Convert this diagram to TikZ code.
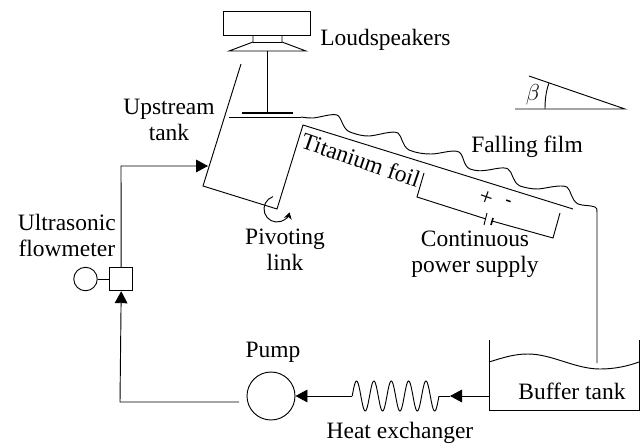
\documentclass[tikz,border=0pt]{standalone}
\usepackage{fontspec}
\setmainfont{Liberation Serif}
\usepackage{amsmath}
\usetikzlibrary{arrows.meta, positioning}
\tikzset{
	label/.style={font=\fontsize{17.6}{19.5}\selectfont, align=center, inner sep=0pt},
	wall/.style={draw=black, line width=0.7pt},
	pipe/.style={draw=black, line width=0.7pt},
	flow/.style={pipe, -{Triangle[length=9pt, width=9.5pt]}},
	instrument/.style={draw=black, line width=0.7pt, inner sep=0pt, minimum size=#1}
}
\begin{document}
\begin{tikzpicture}[x=0.75pt, y=-0.75pt]
	\useasboundingbox (0,0) rectangle (644,444);

	\coordinate (rodtop) at (267.5,51);
	\coordinate (rodend) at (267.5,112);
	\coordinate (tankin) at (208,166);
	\coordinate (corner) at (121,166);
	\coordinate (tanktop) at (241,64);
	\coordinate (tankbase) at (203,186);
	\coordinate (pivot) at (277,209);
	\coordinate (foilstart) at (303,125);
	\coordinate (foilend) at (573,209);
	\coordinate (filmend) at (597,363);
	\coordinate (retleft) at (120,402);
	\coordinate (retright) at (239,402);
	\coordinate (coilin) at (352.2,396);
	\coordinate (coilout) at (439,396);
	\coordinate (tankout) at (489,396);
	\coordinate (arrowmid) at (450,396);

	% loudspeakers
	\draw[wall] (223.5,11.5) rectangle (310.5,35.5);
	\draw[wall] (253,35.5) -- (253,42) -- (229,51) -- (306,51) -- (282,42) -- (282,35.5);
	\draw[wall] (253,42) -- (282,42);
	\draw[wall] (rodtop) -- (rodend);
	\draw[black, line width=2pt] (242,113) -- (293,113);
	\node[label, anchor=west] (loud) at (320,40) {Loudspeakers};

	% upstream tank and foil
	\draw[wall] (tanktop) -- (tankbase) -- (pivot) -- (foilstart) -- (foilend);
	\draw[wall] (229,117) -- (301,117);
	\draw[wall] (301,117) .. controls (306,117.5) and (309,118.5) .. (313,118)
		.. controls (322,117) and (331,113.5) .. (337,115)
		.. controls (342,117) and (342,129) .. (350,132)
		.. controls (358,135) and (363,136) .. (369,136)
		.. controls (378,135.5) and (392,130) .. (398,133)
		.. controls (402,136) and (402,146) .. (409,150)
		.. controls (416,153) and (424,154) .. (431,154)
		.. controls (440,154) and (453,149) .. (459,152)
		.. controls (464,155) and (463,166) .. (470,169)
		.. controls (476,171) and (480,171) .. (484,170.5)
		.. controls (492,170) and (503,166) .. (508,169)
		.. controls (513,172) and (512,182) .. (520,186)
		.. controls (526,188) and (532,189) .. (538,189)
		.. controls (546,188.5) and (560,184) .. (567,187)
		.. controls (571,190) and (571,200) .. (578,204)
		.. controls (583,206) and (590,205) .. (595,207)
		.. controls (597,208) and (597,209) .. (597,212) -- (filmend);
	\draw[pipe, -{Stealth[length=5pt, width=6pt]}] (pivot) ++(252:13) arc[start angle=252, end angle=15, radius=13];
	\node[label, rotate=-19] (foil) at (361,160) {Titanium foil};
	\node[label] (film) at (527,147) {Falling film};
	\node[label] (upstream) at (169,120) {Upstream\\tank};
	\node[label] (pivoting) at (285,250) {Pivoting\\link};

	% power supply
	\draw[wall] (424,173) -- (417,197) -- (486,219);
	\draw[wall] (487,213) -- (484,225);
	\draw[black, line width=1.2pt] (493,218) -- (491,225);
	\draw[wall] (492,221) -- (553,238) -- (560,213);
	\node[font=\fontsize{18}{18}\selectfont, rotate=-19, inner sep=0pt] (plus) at (486,198) {+};
	\node[font=\bfseries\fontsize{14}{14}\selectfont, rotate=-19, inner sep=0pt] (minus) at (508,203) {-};
	\node[label] (supply) at (475,254) {Continuous\\power supply};

	% slope angle
	\draw[wall] (515,109) -- (625,109) -- (529,76);
	\draw[wall] (549,83) .. controls (546,91) and (545,100) .. (545,109);
	\node[label] (beta) at (533,95) {$\beta$};

	% flowmeter
	\node[instrument=17.6pt] (meter) at (121.2,279) {};
	\node[instrument=17.6pt, circle] (gauge) at (85.5,279) {};
	\draw[pipe] (gauge) -- (meter);
	\node[label, anchor=east] (ultra) at (116,235) {Ultrasonic\\flowmeter};
	\draw[flow] (meter.north) -- (corner) -- (tankin);

	% return line
	\draw[flow] (retright) -- (retleft) -- (meter.south);
	\node[instrument=36pt, circle] (pump) at (271,396) {};
	\node[label] (pumplabel) at (273,352) {Pump};
	\draw[flow] (coilin) -- (pump.east);
	\draw[pipe] plot[domain=0:5, samples=150] ({352.2+17.36*\x}, {396-15*sin(360*\x)});
	\node[label] (exchanger) at (400,433) {Heat exchanger};

	% buffer tank
	\draw[wall] (489,340) -- (489,410) -- (639,410) -- (639,340);
	\draw[wall] (489,362) .. controls (505,357) and (515,354) .. (528,354)
		.. controls (552,354) and (575,369) .. (600,369)
		.. controls (615,369) and (628,366) .. (639,362);
	\node[label] (buffer) at (572,391) {Buffer tank};
	\draw[flow] (tankout) -- (arrowmid);
	\draw[pipe] (arrowmid) -- (coilout);
\end{tikzpicture}
\end{document}
